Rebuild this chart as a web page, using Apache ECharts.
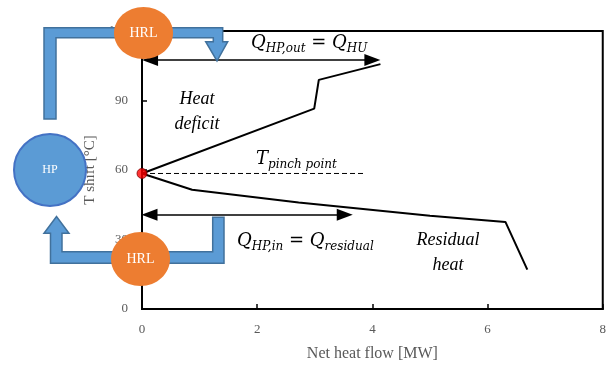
<!DOCTYPE html>
<html>
<head>
<meta charset="utf-8">
<script src="https://cdn.jsdelivr.net/npm/echarts@6/dist/echarts.min.js"></script>
<style>
  html, body { margin: 0; padding: 0; background: #fff; }
  #chart { width: 609px; height: 367px; }
</style>
</head>
<body>
<div id="chart"></div>
<script>
const X_TICKS = [0, 2, 4, 6, 8];
const Y_TICKS = [0, 30, 60, 90, 120];

// grand composite curve, above and below the pinch
const HEAT_DEFICIT = [[0, 58.5], [2.99, 86.5], [3.07, 98.9], [4.14, 105.7]];
const RESIDUAL_HEAT = [[0, 58.5], [0.87, 51.5], [2.72, 46.0], [5.0, 40.3], [6.31, 37.6], [6.69, 17.0]];
const PINCH_POINT = [[0, 58.5]];
const PINCH_LINE = [[0, 58.5], [3.88, 58.5]];

// double arrows Q_HP,out and Q_HP,in  [x start, x end, y]
const ARROW_OUT = [0.14, 4.0, 107.5];
const ARROW_IN = [0.13, 3.52, 40.7];

const SERIF = 'Liberation Serif';
const MATH = 'DejaVu Serif';
const GREY = '#595959';

const chart = echarts.init(document.getElementById('chart'));

function arrowLine(a) {
    return [{ coord: [a[0], a[2]] }, { coord: [a[1], a[2]] }];
}

function mathText(parts) {
    // parts: [[text, 'q' | 's'], ...]
    return parts.map(p => `{${p[1]}|${p[0]}}`).join('');
}

const mathRich = {
    q: { fontFamily: MATH, fontStyle: 'italic', fontSize: 18, lineHeight: 19, verticalAlign: 'top', fill: '#000' },
    s: { fontFamily: MATH, fontStyle: 'italic', fontSize: 12, lineHeight: 13, padding: [9, 0, 0, 0], verticalAlign: 'top', fill: '#000' }
};

const pipeStyle = { fill: '#5B9BD5', stroke: '#41719C', lineWidth: 1.5 };

const option = {
    animation: false,
    grid: {
        left: 142,
        right: 2,
        top: 31,
        bottom: 57.5,
        show: true,
        borderColor: '#000',
        borderWidth: 2
    },
    xAxis: {
        type: 'value',
        min: X_TICKS[0],
        max: X_TICKS[X_TICKS.length - 1],
        interval: 2,
        name: 'Net heat flow [MW]',
        nameLocation: 'middle',
        nameGap: 37,
        nameTextStyle: { fontFamily: SERIF, fontSize: 16, color: GREY },
        axisLine: { lineStyle: { color: '#000', width: 2 } },
        axisTick: { inside: true, length: 5, lineStyle: { color: '#000', width: 1.5 } },
        axisLabel: { fontFamily: SERIF, fontSize: 13, color: GREY, margin: 14 },
        splitLine: { show: false }
    },
    yAxis: {
        type: 'value',
        min: Y_TICKS[0],
        max: Y_TICKS[Y_TICKS.length - 1],
        interval: 30,
        name: 'T shift [°C]',
        nameLocation: 'middle',
        nameGap: 43,
        nameTextStyle: { fontFamily: SERIF, fontSize: 15, color: GREY },
        axisLine: { lineStyle: { color: '#000', width: 2 } },
        axisTick: { inside: true, length: 5, lineStyle: { color: '#000', width: 1.5 } },
        axisLabel: { fontFamily: SERIF, fontSize: 13, color: GREY, margin: 14 },
        splitLine: { show: false }
    },
    series: [
        {
            type: 'line',
            data: HEAT_DEFICIT,
            symbol: 'none',
            lineStyle: { color: '#000', width: 2 },
            z: 3
        },
        {
            type: 'line',
            data: RESIDUAL_HEAT,
            symbol: 'none',
            lineStyle: { color: '#000', width: 2 },
            z: 3
        },
        {
            type: 'line',
            data: PINCH_LINE,
            symbol: 'none',
            lineStyle: { color: '#000', width: 1, type: [5, 3] },
            markLine: {
                silent: true,
                symbol: ['triangle', 'triangle'],
                symbolSize: [12, 16],
                label: { show: false },
                lineStyle: { color: '#000', width: 1.5, type: 'solid' },
                data: [arrowLine(ARROW_OUT), arrowLine(ARROW_IN)]
            },
            z: 2
        },
        {
            type: 'scatter',
            data: PINCH_POINT,
            symbolSize: 10,
            itemStyle: { color: '#FF0000', borderColor: '#7F0000', borderWidth: 1 },
            z: 6
        }
    ],
    graphic: [
        // annotations
        {
            type: 'text', left: 251, top: 34, z: 10,
            style: {
                text: mathText([['Q', 'q'], ['HP,out', 's'], [' = Q', 'q'], ['HU', 's']]),
                rich: mathRich
            }
        },
        {
            type: 'text', left: 256, top: 150, z: 10,
            style: {
                text: mathText([['T', 'q'], ['pinch point', 's']]),
                rich: mathRich
            }
        },
        {
            type: 'text', left: 237, top: 232, z: 10,
            style: {
                text: mathText([['Q', 'q'], ['HP,in', 's'], [' = Q', 'q'], ['residual', 's']]),
                rich: mathRich
            }
        },
        {
            type: 'text', x: 197, y: 112, z: 10,
            style: {
                text: 'Heat\ndeficit', align: 'center', verticalAlign: 'middle', lineHeight: 25,
                fontFamily: SERIF, fontStyle: 'italic', fontSize: 18, fill: '#000'
            }
        },
        {
            type: 'text', x: 448, y: 253, z: 10,
            style: {
                text: 'Residual\nheat', align: 'center', verticalAlign: 'middle', lineHeight: 25,
                fontFamily: SERIF, fontStyle: 'italic', fontSize: 18, fill: '#000'
            }
        },
        // heat pump loop
        {
            type: 'polygon', z: 20,
            shape: { points: [[44, 119], [44, 27.7], [222.7, 27.7], [222.7, 41.7], [227.7, 41.7], [217, 61],
                [205.7, 41.7], [213.3, 41.7], [213.3, 37.7], [56, 37.7], [56, 119]] },
            style: pipeStyle
        },
        {
            type: 'polygon', z: 20,
            shape: { points: [[212.7, 217.3], [224, 217.3], [224, 263.3], [50.5, 263.3], [50.5, 233.3], [44, 233.3],
                [56.5, 216.5], [69, 233.3], [62, 233.3], [62, 251.7], [212.7, 251.7]] },
            style: pipeStyle
        },
        {
            type: 'circle', z: 21,
            shape: { cx: 50, cy: 170, r: 36 },
            style: { fill: '#5B9BD5', stroke: '#4472C4', lineWidth: 2 }
        },
        {
            type: 'ellipse', z: 21,
            shape: { cx: 143.5, cy: 33, rx: 29.5, ry: 26 },
            style: { fill: '#ED7D31' }
        },
        {
            type: 'ellipse', z: 21,
            shape: { cx: 140.5, cy: 259, rx: 29.5, ry: 27 },
            style: { fill: '#ED7D31' }
        },
        {
            type: 'text', x: 50, y: 170, z: 22,
            style: { text: 'HP', align: 'center', verticalAlign: 'middle', fontFamily: SERIF, fontSize: 12, fill: '#fff' }
        },
        {
            type: 'text', x: 143.5, y: 33, z: 22,
            style: { text: 'HRL', align: 'center', verticalAlign: 'middle', fontFamily: SERIF, fontSize: 14, fill: '#fff' }
        },
        {
            type: 'text', x: 140.5, y: 259, z: 22,
            style: { text: 'HRL', align: 'center', verticalAlign: 'middle', fontFamily: SERIF, fontSize: 14, fill: '#fff' }
        }
    ]
};

chart.setOption(option);
</script>
</body>
</html>
